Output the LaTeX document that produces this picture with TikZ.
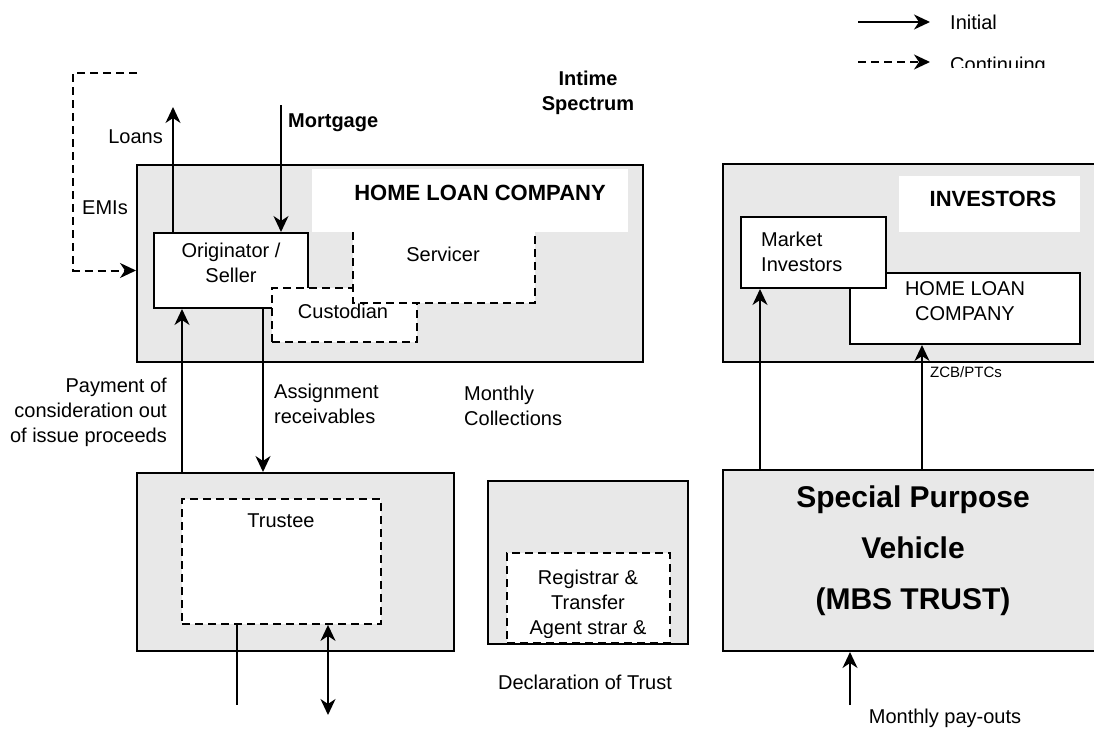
\documentclass[tikz,border=0pt]{standalone}
\usepackage{fontspec}
\setmainfont{Liberation Sans}
\usetikzlibrary{arrows.meta,positioning,fit}

\tikzset{
  greybox/.style={draw, line width=2pt, fill=black!9, inner sep=0pt},
  whitebox/.style={draw, line width=2pt, fill=white, inner sep=0pt},
  dashbox/.style={draw, line width=1.8pt, fill=white, dash pattern=on 8pt off 5pt, inner sep=0pt},
  lbl/.style={font=\fontsize{20}{25}\selectfont, inner sep=0pt},
  boldlbl/.style={font=\fontsize{20}{25}\selectfont\bfseries, inner sep=0pt},
  boldtitle/.style={font=\fontsize{22}{26}\selectfont\bfseries, inner sep=0pt},
  tip/.tip={Stealth[length=16pt,width=15pt,inset=5pt]},
  flow/.style={line width=2pt, -tip},
  cont/.style={flow, dash pattern=on 8pt off 5pt},
  twoway/.style={line width=2pt, tip-tip},
}

\begin{document}
\begin{tikzpicture}[x=1pt,y=-1pt]
  \clip (0,0) rectangle (1094,728);

  % legend
  \coordinate (leg1) at (858,22);
  \node[lbl, anchor=west] (initial) at (950,22) {Initial};
  \draw[flow] (leg1) -- ([xshift=-20pt]initial.west);
  \coordinate (leg2) at (858,62);
  \coordinate (leg2e) at (930,62);
  \draw[cont] (leg2) -- (leg2e);
  \begin{scope}
    \clip (940,40) rectangle (1094,67);
    \node[lbl, anchor=base west] (continuing) at (950,71) {Continuing};
  \end{scope}

  % home loan company
  \node[greybox, fit={(137,165) (643,362)}] (hlc) {};
  \node[fill=white, inner sep=0pt, fit={(312,169) (628,232)}] (hlcbar) {};
  \node[boldtitle] (hlctitle) at (480,193) {HOME LOAN COMPANY};
  \node[whitebox, lbl, align=center, fit={(154,233) (308,308)}] (orig) {Originator /\\Seller};
  \node[dashbox, fit={(272,288) (417,342)}] (cust) {};
  \node[lbl] (custtxt) at (343,311) {Custodian};
  \fill[white] (353,232) rectangle (535,303);
  \draw[line width=1.8pt, dash pattern=on 8pt off 5pt] (353,232) -- (353,303) -- (535,303) -- (535,232);
  \node[lbl] (serv) at (443,254) {Servicer};

  \coordinate (emi) at (137,73);
  \draw[cont] (emi) -- (73,73) |- (hlc.west |- orig.west);
  \node[lbl] (emis) at (105,208) {EMIs};
  \coordinate (loan) at (173,107);
  \draw[flow] (orig.north -| loan) -- (loan);
  \node[lbl, anchor=east] (loans) at (163,137) {Loans};
  \coordinate (mort) at (281,105);
  \draw[flow] (mort) -- (orig.north -| mort);
  \node[boldlbl, anchor=west] (mortgage) at (288,123) {Mortgage};
  \node[boldlbl, align=center] (intime) at (588,93) {Intime\\Spectrum};

  % trust
  \node[greybox, fit={(137,473) (454,651)}] (trust) {};
  \node[dashbox, fit={(182,499) (381,624)}] (trustee) {};
  \node[lbl] (trusteetxt) at (281,521) {Trustee};
  \coordinate (pay) at (182,420);
  \coordinate (asg) at (263,420);
  \draw[flow] (trust.north -| pay) -- (orig.south -| pay);
  \draw[flow] (orig.south -| asg) -- (trust.north -| asg);
  \node[lbl, align=right, anchor=east] (payment) at (167,412) {Payment of\\consideration out\\of issue proceeds};
  \node[lbl, align=left, anchor=west] (assign) at (274,404) {Assignment\\receivables};
  \node[lbl, align=left, anchor=west] (monthly) at (464,406) {Monthly\\Collections};
  \coordinate (out) at (237,705);
  \coordinate (in) at (328,715);
  \draw[line width=2pt] (trustee.south -| out) -- (out);
  \draw[twoway] (trustee.south -| in) -- (in);

  % registrar
  \node[greybox, fit={(488,481) (688,644)}] (regbox) {};
  \node[dashbox, fit={(507,553) (670,643)}] (registrar) {};
  \begin{scope}
    \clip (507,553) rectangle (670,637);
    \node[lbl, align=center] (regtxt) at (588,604) {Registrar \&\\Transfer\\Agent strar \&};
  \end{scope}
  \node[lbl] (decl) at (585,682) {Declaration of Trust};

  % investors
  \node[greybox, fit={(723,164) (1110,362)}] (inv) {};
  \node[fill=white, inner sep=0pt, fit={(899,176) (1080,232)}] (invbar) {};
  \node[boldtitle] (invtitle) at (993,199) {INVESTORS};
  \node[whitebox, lbl, align=center, fit={(850,273) (1080,344)}] (ihlc) {HOME LOAN\\COMPANY};
  \node[whitebox, fit={(741,217) (886,288)}] (mkt) {};
  \node[lbl, align=left, anchor=west] (mkttxt) at (761,252) {Market\\Investors};

  % spv
  \node[greybox, fit={(723,470) (1110,651)}] (spv) {};
  \node[font=\fontsize{30}{51}\selectfont\bfseries, align=center, inner sep=0pt] (spvtxt) at (913,551) {Special Purpose\\Vehicle\\(MBS TRUST)};
  \coordinate (mktx) at (760,400);
  \coordinate (zcbx) at (922,400);
  \draw[flow] (spv.north -| mktx) -- (mkt.south -| mktx);
  \draw[flow] (spv.north -| zcbx) -- (ihlc.south -| zcbx);
  \node[font=\fontsize{15}{18}\selectfont, inner sep=0pt, anchor=west] (zcb) at (930,372) {ZCB/PTCs};
  \coordinate (po) at (850,705);
  \draw[flow] (po) -- (spv.south -| po);
  \node[lbl] (payouts) at (945,718) {Monthly pay-outs};
\end{tikzpicture}
\end{document}
